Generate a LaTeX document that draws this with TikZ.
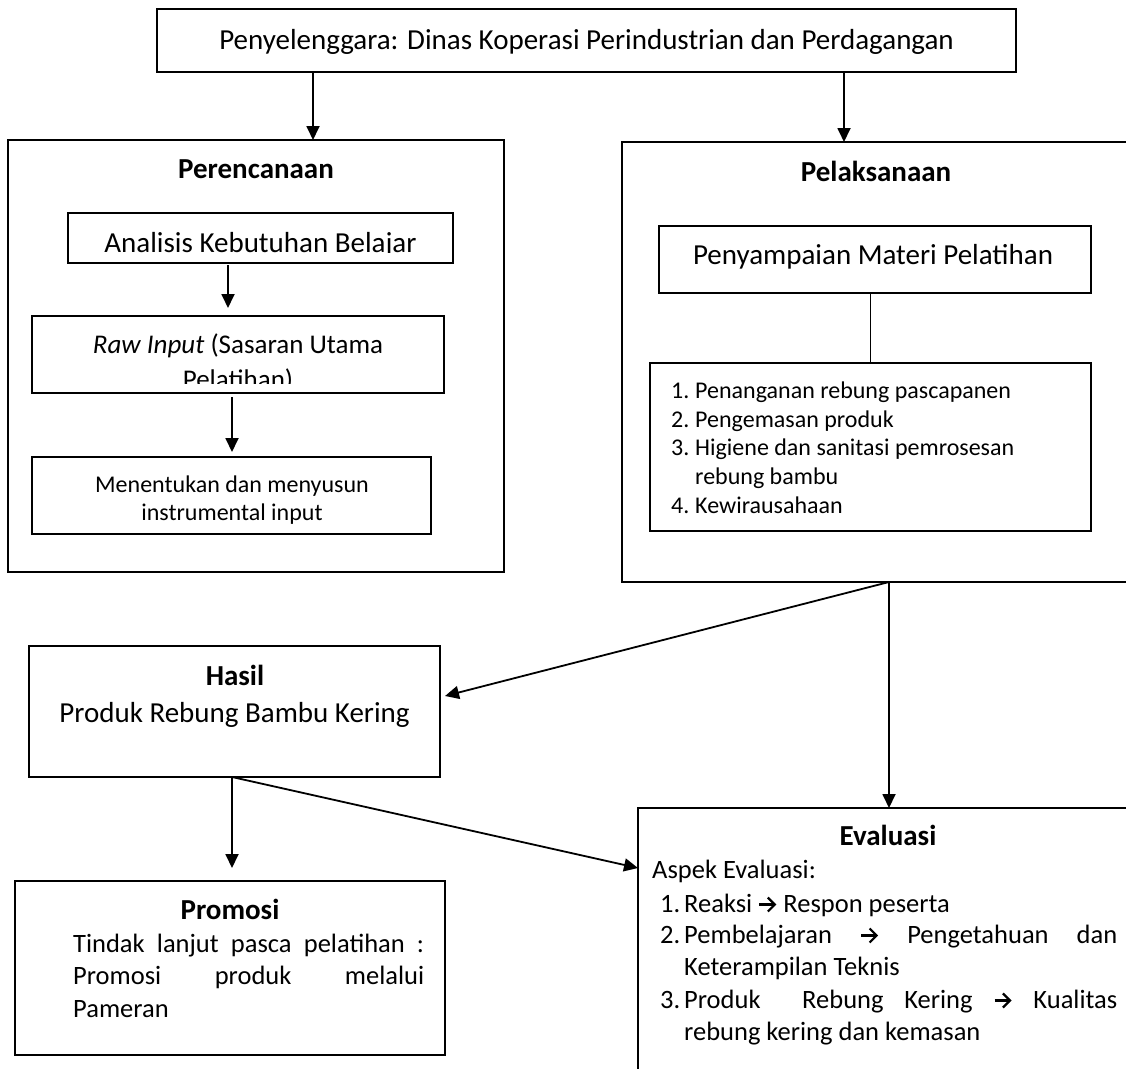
\documentclass[tikz,border=0pt]{standalone}
\usepackage{fontspec}
\setmainfont{Carlito}
\usetikzlibrary{arrows.meta}
\newcommand{\setfs}[1]{\fontsize{#1}{#1}\selectfont}
\newcommand{\rarr}{\tikz[baseline=-7.5pt]\draw[line width=2.2pt,-{Straight Barb[length=7pt,width=14pt,line width=2.2pt]}] (0pt,0pt) -- (17pt,0pt);}
\begin{document}
\begin{tikzpicture}[x=1pt,y=-1pt,
  box/.style={draw, line width=1.8pt, inner sep=0pt, outer sep=0pt},
  lbl/.style={inner sep=0pt, anchor=base},
  lbw/.style={inner sep=0pt, anchor=base west},
  conn/.style={line width=1.8pt},
  arr/.style={line width=1.8pt, -{Triangle[length=14pt,width=13pt]}},
]
\useasboundingbox (0,0) rectangle (1126,1068);

% outer boxes
\node[box, minimum width=859, minimum height=63] (top) at (586.5,40.5) {};
\node[box, minimum width=496, minimum height=432] (plan) at (256,356) {};
\node[box, minimum width=540, minimum height=440] (exec) at (892,362) {};
\node[box, minimum width=411, minimum height=131] (hasil) at (234.5,711.5) {};
\node[box, minimum width=430, minimum height=174] (promo) at (230,968) {};
\node[box, minimum width=540, minimum height=300] (eval) at (908,958) {};

% inner boxes
\node[box, minimum width=385, minimum height=50] (anal) at (260.5,238) {};
\node[box, minimum width=412, minimum height=77] (raw) at (238,354.5) {};
\node[box, minimum width=399, minimum height=77] (menen) at (231.5,495.5) {};
\node[box, minimum width=432, minimum height=67] (penyam) at (875,259.5) {};
\node[box, minimum width=441, minimum height=168] (list) at (870.5,447) {};

% texts
\node[lbl] (ttop) at (586.5,49) {\setfs{29}Penyelenggara: Dinas Koperasi Perindustrian dan Perdagangan};
\node[lbl] (tplan) at (256,178) {\setfs{29}\bfseries Perencanaan};
\begin{scope}
\clip (68,213) rectangle (453,252.5);
\node[lbl] (tanal) at (260.5,252.5) {\setfs{29}Analisis Kebutuhan Belajar};
\end{scope}
\begin{scope}
\clip (32,316) rectangle (444,383);
\node[lbl] (traw1) at (238,353) {\setfs{27}\textit{Raw Input} (Sasaran Utama};
\node[lbl] (traw2) at (238,388) {\setfs{27}Pelatihan)};
\end{scope}
\node[lbl] (tmen1) at (232,492) {\setfs{24}Menentukan dan menyusun};
\node[lbl] (tmen2) at (232,520) {\setfs{24}instrumental input};

\node[lbl] (texec) at (876,181) {\setfs{29}\bfseries Pelaksanaan};
\node[lbl] (tpen) at (873,264) {\setfs{29}Penyampaian Materi Pelatihan};
\node[lbw] (l1n) at (671,398) {\setfs{24}1.};
\node[lbw] (l1) at (695,398) {\setfs{24}Penanganan rebung pascapanen};
\node[lbw] (l2n) at (671,427) {\setfs{24}2.};
\node[lbw] (l2) at (695,427) {\setfs{24}Pengemasan produk};
\node[lbw] (l3n) at (671,455) {\setfs{24}3.};
\node[lbw] (l3) at (695,455) {\setfs{24}Higiene dan sanitasi pemrosesan};
\node[lbw] (l3b) at (695,484) {\setfs{24}rebung bambu};
\node[lbw] (l4n) at (671,513) {\setfs{24}4.};
\node[lbw] (l4) at (695,513) {\setfs{24}Kewirausahaan};

\node[lbl] (thas) at (235,685) {\setfs{29}\bfseries Hasil};
\node[lbl] (thas2) at (234.5,722) {\setfs{29}Produk Rebung Bambu Kering};

\node[lbl] (tpro) at (230,919) {\setfs{29}\bfseries Promosi};
\node[lbw] (p1) at (73,952) {\setfs{26.5}\makebox[351pt][s]{Tindak lanjut pasca pelatihan :}};
\node[lbw] (p2) at (73,984) {\setfs{26.5}\makebox[351pt][s]{Promosi produk melalui}};
\node[lbw] (p3) at (73,1017) {\setfs{26.5}Pameran};

\node[lbl] (tev) at (888,845) {\setfs{29}\bfseries Evaluasi};
\node[lbw] (ea) at (652,878) {\setfs{26.5}Aspek Evaluasi:};
\node[lbw] (e1n) at (660,912) {\setfs{26.5}1.};
\node[lbw] (e1) at (684,912) {\setfs{26.5}Reaksi \rarr\ Respon peserta};
\node[lbw] (e2n) at (660,943) {\setfs{26.5}2.};
\node[lbw] (e2) at (684,943) {\setfs{26.5}\makebox[433pt][s]{Pembelajaran \rarr\ Pengetahuan dan}};
\node[lbw] (e2b) at (684,975) {\setfs{26.5}Keterampilan Teknis};
\node[lbw] (e3n) at (660,1008) {\setfs{26.5}3.};
\node[lbw] (e3) at (684,1008) {\setfs{26.5}\makebox[433pt][s]{Produk\ \ Rebung Kering \rarr\ Kualitas}};
\node[lbw] (e3b) at (684,1040) {\setfs{26.5}rebung kering dan kemasan};

% connectors
\coordinate (c1) at ([xshift=156pt]top.south west);
\draw[arr] (c1) -- (c1 |- plan.north);
\coordinate (c2) at ([xshift=687pt]top.south west);
\draw[arr] (c2) -- (c2 |- exec.north);
\coordinate (c3) at ([xshift=160pt]anal.south west);
\draw[arr, shorten <=2pt, shorten >=8pt] (c3) -- (c3 |- raw.north);
\coordinate (c4) at ([xshift=200pt]raw.south west);
\draw[arr, shorten <=4pt, shorten >=5pt] (c4) -- (c4 |- menen.north);
\draw[conn] (list.north) -- (list.north |- penyam.south);
\coordinate (c5) at ([xshift=267pt]exec.south west);
\draw[arr] (c5) -- ([xshift=5pt,yshift=15.5pt]hasil.east);
\draw[arr] (c5) -- (c5 |- eval.north);
\coordinate (c6) at ([xshift=-2.5pt]hasil.south);
\draw[arr, shorten >=13pt] (c6) -- (c6 |- promo.north);
\draw[arr] (c6) -- ([yshift=-60pt]eval.north west);
\end{tikzpicture}
\end{document}
